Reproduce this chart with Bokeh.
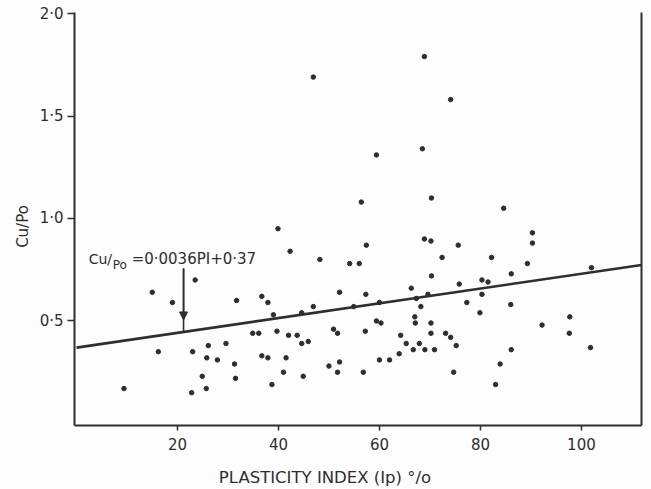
from bokeh.plotting import figure
from bokeh.models import (Range1d, FixedTicker, LinearAxis, Label, Arrow,
                          NormalHead, ColumnDataSource)
from bokeh.embed import file_html
from bokeh.resources import INLINE

# --- data ---
plasticity_index = [
    46.9, 39.9, 68.9, 74.1, 59.4, 68.5, 56.4, 70.3, 84.6, 90.3,
    90.3, 68.9, 70.2, 75.6, 57.4, 23.5, 15.0, 19.0, 31.7, 36.7,
    37.9, 39.0, 34.9, 36.1, 26.1, 29.6, 16.2, 23.0, 25.8, 27.9,
    36.7, 37.9, 31.3, 24.9, 31.5, 9.4, 22.8, 25.7, 38.7, 42.3,
    48.2, 54.1, 56.0, 72.4, 70.3, 75.8, 52.1, 57.3, 46.9, 44.6,
    54.9, 60.0, 66.3, 67.3, 69.6, 68.2, 67.0, 67.1, 59.4, 60.3,
    70.2, 39.7, 42.0, 43.7, 44.6, 45.9, 50.9, 51.7, 57.2, 64.2,
    70.2, 73.1, 74.1, 75.2, 65.3, 67.9, 66.7, 69.0, 70.9, 63.9,
    62.0, 60.0, 41.5, 52.1, 50.0, 41.0, 51.7, 56.8, 44.9, 74.7,
    82.2, 89.3, 86.1, 102.0, 80.3, 81.5, 80.3, 77.3, 86.0, 79.9,
    97.7, 92.2, 97.6, 86.1, 101.8, 83.9, 83.0,
]
cu_po = [
    1.69, 0.95, 1.79, 1.58, 1.31, 1.34, 1.08, 1.10, 1.05, 0.93,
    0.88, 0.90, 0.89, 0.87, 0.87, 0.70, 0.64, 0.59, 0.60, 0.62,
    0.59, 0.53, 0.44, 0.44, 0.38, 0.39, 0.35, 0.35, 0.32, 0.31,
    0.33, 0.32, 0.29, 0.23, 0.22, 0.17, 0.15, 0.17, 0.19, 0.84,
    0.80, 0.78, 0.78, 0.81, 0.72, 0.68, 0.64, 0.63, 0.57, 0.54,
    0.57, 0.59, 0.66, 0.61, 0.63, 0.57, 0.52, 0.49, 0.50, 0.49,
    0.49, 0.45, 0.43, 0.43, 0.39, 0.40, 0.46, 0.44, 0.45, 0.43,
    0.44, 0.44, 0.42, 0.38, 0.39, 0.39, 0.36, 0.36, 0.36, 0.34,
    0.31, 0.31, 0.32, 0.30, 0.28, 0.25, 0.25, 0.25, 0.23, 0.25,
    0.81, 0.78, 0.73, 0.76, 0.70, 0.69, 0.63, 0.59, 0.58, 0.54,
    0.52, 0.48, 0.44, 0.36, 0.37, 0.29, 0.19,
]
# regression line Cu/Po = 0.0036 PI + 0.37
fit_slope = 0.0036
fit_intercept = 0.37
fit_x = [0.0, 111.9]
fit_y = [fit_intercept + fit_slope * v for v in fit_x]

x_ticks = [20, 40, 60, 80, 100]
x_tick_labels = ["20", "40", "60", "80", "100"]
y_ticks = [0.5, 1.0, 1.5, 2.0]
y_tick_labels = ["0·5", "1·0", "1·5", "2·0"]

x_title = "PLASTICITY INDEX (Ip) °/o"
y_title = "Cu/Po"

arrow_x = 21.2
arrow_top = 0.756

INK = "#2e2e2e"
FONT = "DejaVu Sans"
EM = "\u2003"

p = figure(width=651, height=489, output_backend="svg", toolbar_location=None,
           x_range=Range1d(-0.4, 111.9), y_range=Range1d(-0.01, 2.005),
           min_border_left=74, min_border_right=10, min_border_top=12,
           min_border_bottom=64, background_fill_color="#fdfdfd",
           border_fill_color="#fdfdfd")
p.outline_line_color = None
p.grid.visible = False

src = ColumnDataSource(dict(x=plasticity_index, y=cu_po))
p.scatter("x", "y", source=src, size=4.5, color=INK)
p.line(fit_x, fit_y, line_width=2.6, color=INK)

# annotation arrow
fit_at_arrow = fit_intercept + fit_slope * arrow_x
p.segment(x0=[arrow_x], y0=[arrow_top], x1=[arrow_x], y1=[fit_at_arrow],
          line_width=1.6, color=INK)
p.add_layout(Arrow(end=NormalHead(size=8, fill_color=INK, line_color=INK),
                   x_start=arrow_x, y_start=arrow_top, x_end=arrow_x,
                   y_end=0.505, line_width=1.6, line_color=INK))

# equation text with subscript
eq_x, eq_y = 2.4, 0.80
p.add_layout(Label(x=eq_x, y=eq_y, text="Cu/", text_font=FONT,
                   text_font_size="14px", text_color=INK,
                   text_baseline="alphabetic"))
p.add_layout(Label(x=eq_x, y=eq_y, x_offset=24, y_offset=-6, text="Po",
                   text_font=FONT, text_font_size="12px", text_color=INK,
                   text_baseline="alphabetic"))
p.add_layout(Label(x=eq_x, y=eq_y, x_offset=43, text="=0·0036PI+0·37",
                   text_font=FONT, text_font_size="15px", text_color=INK,
                   text_baseline="alphabetic"))

for ax in (p.xaxis[0], p.yaxis[0]):
    ax.axis_line_width = 2
    ax.axis_line_color = INK
    ax.major_tick_line_color = INK
    ax.major_tick_line_width = 1.5
    ax.minor_tick_line_color = None
    ax.major_tick_in = 0
    ax.major_label_text_font = FONT
    ax.major_label_text_font_size = "15px"
    ax.major_label_text_color = INK
    ax.axis_label_text_font = FONT
    ax.axis_label_text_font_style = "normal"
    ax.axis_label_text_color = INK

p.xaxis.ticker = FixedTicker(ticks=x_ticks)
p.xaxis.major_label_overrides = dict(zip(x_ticks, x_tick_labels))
p.xaxis.major_tick_out = 5
p.xaxis.major_label_standoff = 7
# trailing em spaces push the centred title left, as in the reference
p.xaxis.axis_label = x_title + EM * 4
p.xaxis.axis_label_text_font_size = "16.5px"
p.xaxis.axis_label_standoff = 15

p.yaxis.ticker = FixedTicker(ticks=y_ticks)
p.yaxis.major_label_overrides = dict(zip(y_ticks, y_tick_labels))
p.yaxis.major_tick_out = 7
p.yaxis.major_label_standoff = 4
# trailing em space nudges the rotated title downwards
p.yaxis.axis_label = y_title + EM
p.yaxis.axis_label_text_font_size = "15px"
p.yaxis.axis_label_standoff = 5

right = LinearAxis(ticker=FixedTicker(ticks=[]), axis_line_width=2,
                   axis_line_color=INK, major_label_text_font_size="0px",
                   major_tick_line_color=None, minor_tick_line_color=None)
p.add_layout(right, "right")

open("out.html", "w").write(file_html(p, INLINE))
